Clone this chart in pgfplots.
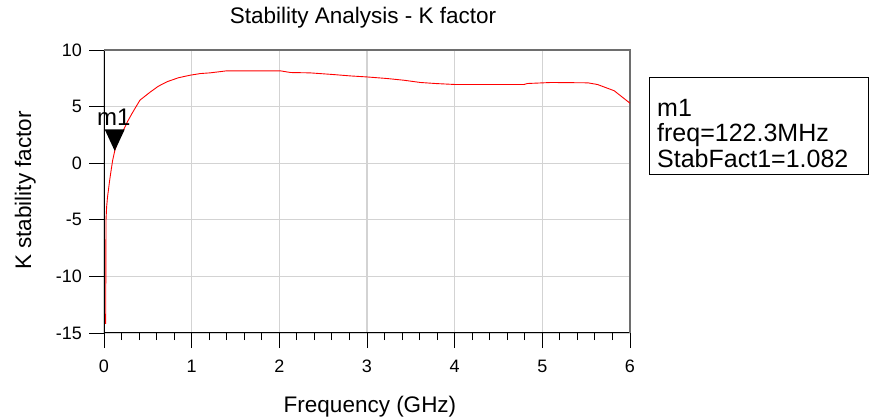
\documentclass[border=0pt]{standalone}
\usepackage{fontspec}
\setmainfont{Liberation Sans}
\usepackage{pgfplots}
\pgfplotsset{compat=1.18}
\definecolor{gridgray}{RGB}{211,211,211}
\definecolor{framegray}{RGB}{110,110,110}
\pgfdeclareplotmark{mtri}{%
  \pgfpathmoveto{\pgfpoint{0pt}{0pt}}%
  \pgfpathlineto{\pgfpoint{-10bp}{21.5bp}}%
  \pgfpathlineto{\pgfpoint{10bp}{21.5bp}}%
  \pgfpathclose\pgfusepathqfill}
\begin{document}
\begin{tikzpicture}
\path[use as bounding box] (0,0) rectangle (869bp,420bp);
\begin{axis}[
  at={(104bp,87bp)}, anchor=south west,
  scale only axis, width=526bp, height=283bp,
  xmin=0, xmax=6, ymin=-15, ymax=10,
  xtick={0,1,2,3,4,5,6}, ytick={-15,-10,-5,0,5,10},
  minor x tick num=4,
  axis x line*=bottom, axis y line*=left,
  axis line style={black, line width=1bp},
  tick align=outside,
  major tick length=15bp, minor tick length=7bp,
  tick style={black, line width=0.9bp},
  grid=major,
  major grid style={gridgray, line width=1.2bp},
  /pgf/number format/assume math mode=true,
  xticklabel style={font=\fontsize{18bp}{21bp}\selectfont, anchor=base, yshift=-24bp},
  yticklabel style={font=\fontsize{18bp}{21bp}\selectfont, anchor=east, inner xsep=0pt, xshift=-7bp},
  clip=false,
]
\draw[framegray, line width=1.5bp] (rel axis cs:0,1) -- (rel axis cs:1,1) -- (rel axis cs:1,0);
\addplot[red, line width=0.9bp] coordinates {
(0.019,-14.2) (0.021,-9.5) (0.023,-5.0) (0.030,-3.86) (0.040,-3.0)
(0.050,-2.4) (0.063,-1.6) (0.076,-0.9) (0.099,0.27) (0.1223,1.082)
(0.16,2.0) (0.22,2.9) (0.27,3.7) (0.32,4.4) (0.41,5.57) (0.53,6.3)
(0.62,6.8) (0.72,7.2) (0.85,7.55) (0.98,7.77) (1.10,7.92) (1.21,7.98)
(1.40,8.16) (2.01,8.16) (2.13,8.01) (2.35,7.98) (2.62,7.83) (2.81,7.71)
(3.0,7.62) (3.23,7.48) (3.42,7.33) (3.61,7.13) (3.78,7.04) (4.01,6.95)
(4.79,6.95) (4.83,7.04) (5.1,7.13) (5.52,7.1) (5.63,6.95) (5.82,6.4)
(6.0,5.3)
};
\addplot[draw=none, mark=mtri, mark options={black}] coordinates {(0.1223,1.082)}
  node[pos=0, anchor=base, yshift=25bp, xshift=-1bp, font=\fontsize{24bp}{28bp}\selectfont] {m1};
\end{axis}
\node[anchor=base, font=\fontsize{22.5bp}{27bp}\selectfont] at (363bp,396.7bp) {Stability Analysis - K factor};
\node[anchor=base, font=\fontsize{22.5bp}{27bp}\selectfont] at (370bp,8bp) {Frequency (GHz)};
\node[anchor=base, rotate=90, font=\fontsize{22.5bp}{27bp}\selectfont] at (31bp,229.5bp) {K stability factor};
\draw[black, line width=1bp] (649bp,245bp) rectangle (868bp,342bp);
\node[anchor=base west, inner sep=0pt, font=\fontsize{25bp}{30bp}\selectfont] at (657bp,303bp) {m1};
\node[anchor=base west, inner sep=0pt, font=\fontsize{25bp}{30bp}\selectfont] at (657bp,278bp) {freq=122.3MHz};
\node[anchor=base west, inner sep=0pt, font=\fontsize{25bp}{30bp}\selectfont] at (657bp,252.5bp) {StabFact1=1.082};
\end{tikzpicture}
\end{document}
